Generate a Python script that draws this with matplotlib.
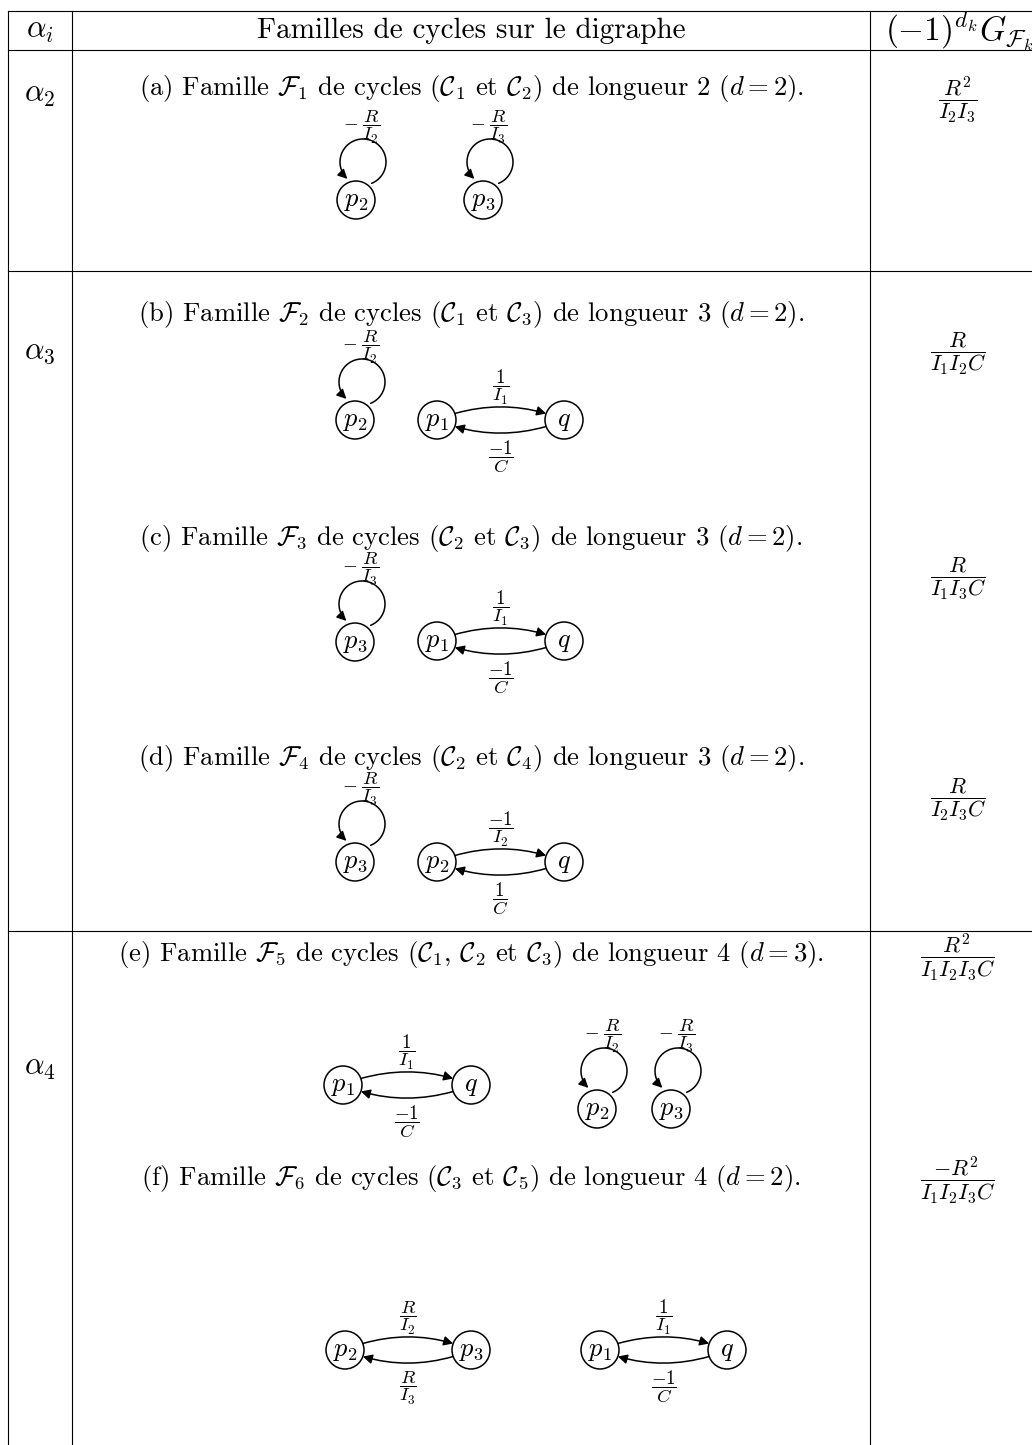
import numpy as np
import matplotlib.pyplot as plt
from matplotlib.patches import Circle, FancyArrowPatch
from matplotlib.path import Path

plt.rcParams['mathtext.fontset'] = 'cm'
plt.rcParams['font.family'] = 'cmr10'
plt.rcParams['axes.unicode_minus'] = False

# table content
header = [r'$\alpha_i$', 'Familles de cycles sur le digraphe', r'$(-1)^{d_k}G_{\mathcal{F}_k}$']
row_labels = [r'$\alpha_2$', r'$\alpha_3$', r'$\alpha_4$']
captions = [
    r'(a) Famille $\mathcal{F}_1$ de cycles ($\mathcal{C}_1$ et $\mathcal{C}_2$) de longueur 2 ($d=2$).',
    r'(b) Famille $\mathcal{F}_2$ de cycles ($\mathcal{C}_1$ et $\mathcal{C}_3$) de longueur 3 ($d=2$).',
    r'(c) Famille $\mathcal{F}_3$ de cycles ($\mathcal{C}_2$ et $\mathcal{C}_3$) de longueur 3 ($d=2$).',
    r'(d) Famille $\mathcal{F}_4$ de cycles ($\mathcal{C}_2$ et $\mathcal{C}_4$) de longueur 3 ($d=2$).',
    r'(e) Famille $\mathcal{F}_5$ de cycles ($\mathcal{C}_1$, $\mathcal{C}_2$ et $\mathcal{C}_3$) de longueur 4 ($d=3$).',
    r'(f) Famille $\mathcal{F}_6$ de cycles ($\mathcal{C}_3$ et $\mathcal{C}_5$) de longueur 4 ($d=2$).',
]
weights = [r'$\dfrac{R^2}{I_2I_3}$', r'$\dfrac{R}{I_1I_2C}$', r'$\dfrac{R}{I_1I_3C}$',
           r'$\dfrac{R}{I_2I_3C}$', r'$\dfrac{R^2}{I_1I_2I_3C}$', r'$\dfrac{-R^2}{I_1I_2I_3C}$']

# cycles of each family: self loops (node, gain) and 2-cycles (node, node, gain ->, gain <-)
loops = [
    [('p_2', r'-\;\dfrac{R}{I_2}'), ('p_3', r'-\;\dfrac{R}{I_3}')],
    [('p_2', r'-\;\dfrac{R}{I_2}')],
    [('p_3', r'-\;\dfrac{R}{I_3}')],
    [('p_3', r'-\;\dfrac{R}{I_3}')],
    [('p_2', r'-\;\dfrac{R}{I_2}'), ('p_3', r'-\;\dfrac{R}{I_3}')],
    [],
]
pairs = [
    [],
    [('p_1', 'q', r'\dfrac{1}{I_1}', r'\dfrac{-1}{C}')],
    [('p_1', 'q', r'\dfrac{1}{I_1}', r'\dfrac{-1}{C}')],
    [('p_2', 'q', r'\dfrac{-1}{I_2}', r'\dfrac{1}{C}')],
    [('p_1', 'q', r'\dfrac{1}{I_1}', r'\dfrac{-1}{C}')],
    [('p_2', 'p_3', r'\dfrac{R}{I_2}', r'\dfrac{R}{I_3}'), ('p_1', 'q', r'\dfrac{1}{I_1}', r'\dfrac{-1}{C}')],
]

# layout (pixel positions)
loop_pos = [[(356, 200), (483, 200)], [(355, 420)], [(355, 642)], [(355, 862)],
            [(597, 1109), (671, 1109)], []]
pair_pos = [[], [(437, 564, 420)], [(437, 564, 641)], [(437, 564, 862)],
            [(343, 471, 1085)], [(345, 471, 1350), (600, 727, 1350)]]
caption_y = [89, 314, 538, 758, 955, 1179]
weight_y = [100, 351, 576, 797, 957, 1180]
row_label_y = [95, 352, 1068]

fig = plt.figure(figsize=(10.32, 14.45), dpi=100)
ax = fig.add_axes([0, 0, 1, 1])
ax.set_xlim(0, 1032)
ax.set_ylim(1445, 0)
ax.axis('off')

# grid
lw = 0.8
for x in [8, 72, 870]:
    ax.plot([x, x], [11, 1445], color='black', lw=lw)
for y in [11, 50, 271, 931]:
    ax.plot([8, 1032], [y, y], color='black', lw=lw)

ax.text(40, 31, header[0], fontsize=22, ha='center', va='center')
ax.text(471, 31, header[1], fontsize=21, ha='center', va='center')
ax.text(885, 31, header[2], fontsize=24, ha='left', va='center')

for lab, y in zip(row_labels, row_label_y):
    ax.text(40, y, lab, fontsize=22, ha='center', va='center')
for cap, y in zip(captions, caption_y):
    ax.text(471, y, cap, fontsize=19.2, ha='center', va='center')
# fraction bar sits a little above the baseline
for w, y in zip(weights, weight_y):
    ax.text(958, y + 5.5, w, fontsize=16, ha='center', va='baseline')

r = 19
elw = 1.1
astyle = '-|>,head_length=0.55,head_width=0.28'
small = 13.5


def node(x, y, lab):
    ax.add_patch(Circle((x, y), r, fill=False, lw=elw, color='black'))
    ax.text(x, y + 1, '$' + lab + '$', fontsize=19, ha='center', va='center')


def arrow(verts, codes):
    ax.add_patch(FancyArrowPatch(path=Path(verts, codes), arrowstyle=astyle,
                                 mutation_scale=10, lw=elw, color='black'))


def gain_text(x, y_bar, s):
    ax.text(x, y_bar + 4.5, '$' + s + '$', fontsize=small, ha='center', va='baseline')


for k in range(len(captions)):
    for (lab, gain), (x, y) in zip(loops[k], loop_pos[k]):
        node(x, y, lab)
        cx, cy, rl = x + 7, y - 38, 23
        t = np.radians(np.linspace(68, -227, 80))
        pts = np.column_stack([cx + rl * np.cos(t), cy + rl * np.sin(t)])
        arrow(pts, [Path.MOVETO] + [Path.LINETO] * (len(pts) - 1))
        gain_text(x + 6, y - 74, gain)
    for (a, b, g1, g2), (x1, x2, y) in zip(pairs[k], pair_pos[k]):
        node(x1, y, a)
        node(x2, y, b)
        dx, dy = r * np.cos(np.radians(20)), r * np.sin(np.radians(20))
        xm = (x1 + x2) / 2
        arrow([(x1 + dx, y - dy), (xm, y - dy - 13), (x2 - dx, y - dy)],
              [Path.MOVETO, Path.CURVE3, Path.CURVE3])
        arrow([(x2 - dx, y + dy), (xm, y + dy + 13), (x1 + dx, y + dy)],
              [Path.MOVETO, Path.CURVE3, Path.CURVE3])
        gain_text(xm, y - 33, g1)
        gain_text(xm, y + 37, g2)

fig.savefig('out.png', dpi=100)
